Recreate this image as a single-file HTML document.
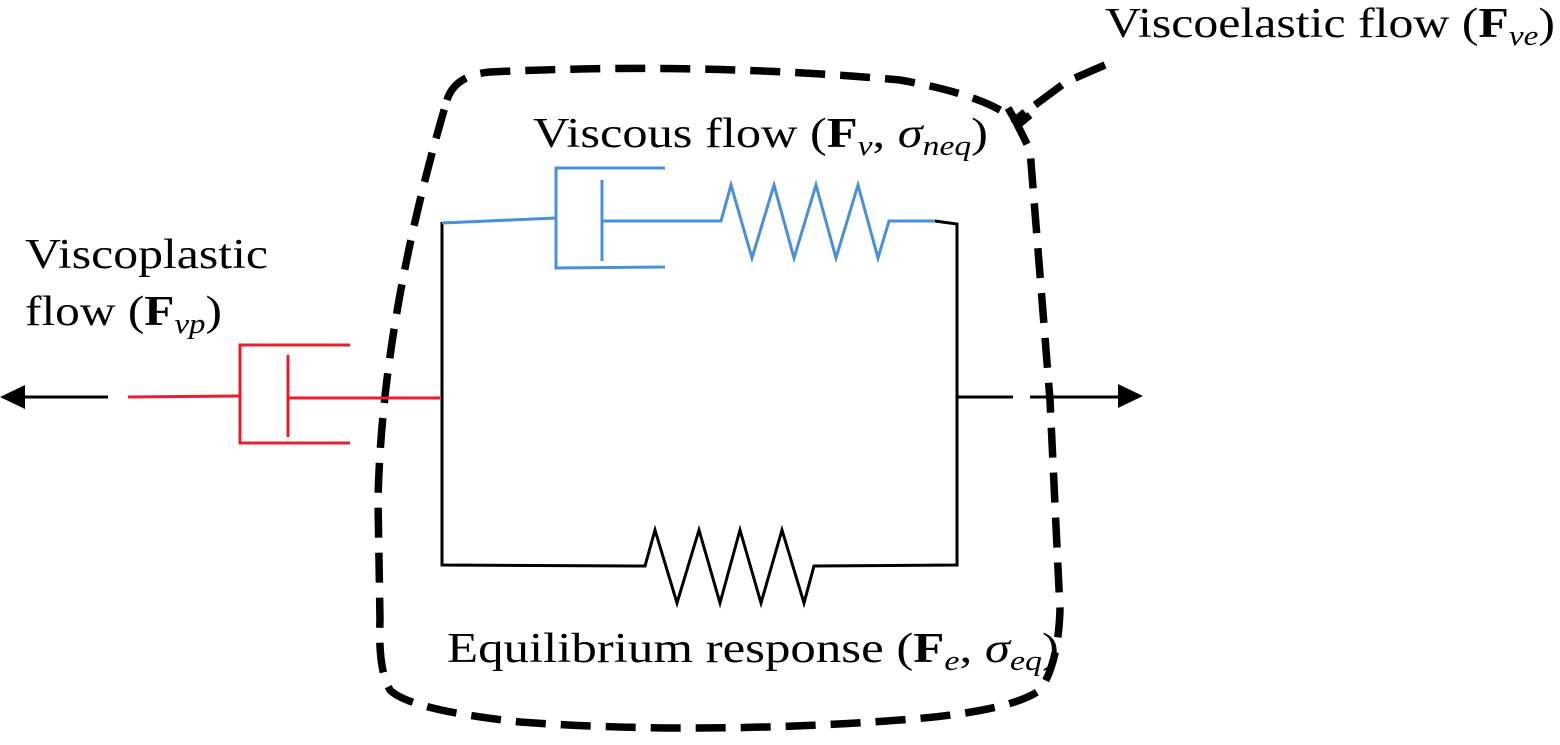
<!DOCTYPE html>
<html><head><meta charset="utf-8"><style>
html,body{margin:0;padding:0;background:#fff;}
svg{display:block;}
text{font-family:"Liberation Serif",serif;font-size:42px;fill:#000;}
.s{font-size:28px;font-style:italic;}
.b{font-weight:bold;}
</style></head><body>
<svg width="1560" height="745" viewBox="0 0 1560 745" xmlns="http://www.w3.org/2000/svg">
<!-- dashed outline -->
<path d="M447,100 Q455,75 490,72 Q700,62 900,80 Q985,95 1015,120 L1030,150 L1050,400 L1060,610 Q1058,665 1040,690 Q1010,712 900,720 Q700,735 520,722 Q410,710 390,690 Q378,670 380,620 L378,500 Q382,320 447,100 Z" fill="none" stroke="#000" stroke-width="7.5" stroke-dasharray="30,15"/>
<path d="M1013,122 L1025,112 M1035,105 L1062,85 M1075,78 L1105,65" stroke="#000" stroke-width="7.5" fill="none"/>
<path d="M1008,108 L1018,125 L1030,115" stroke="#000" stroke-width="7.5" fill="none"/>
<!-- black circuit -->
<g stroke="#000" stroke-width="3" fill="none">
<path d="M442,222 L442,565 L645,566 L655,530 L677,603 L699,530 L720,603 L740,530 L761,603 L782,530 L804,603 L814,566 L957,565 L957,224 L935,221"/>
<path d="M957,397 L1013,397 M1030,397 L1122,397"/>
<path d="M20,397 L108,397"/>
</g>
<polygon points="1143,396 1118,384 1118,408" fill="#000"/>
<polygon points="0,397 25,385 25,409" fill="#000"/>
<!-- blue -->
<g stroke="#4a90d9" stroke-width="3" fill="none">
<path d="M442,223 L556,218"/>
<path d="M665,168 L556,168 L556,268 L665,267"/>
<path d="M602,180 L602,261 M602,221 L721,221 L731,185 L752,258 L774,185 L794,258 L816,185 L836,258 L858,185 L878,258 L889,221 L935,221"/>
</g>
<!-- red -->
<g stroke="#ee1c2e" stroke-width="3" fill="none">
<path d="M128,397 L240,396"/>
<path d="M350,345 L240,345 L240,443 L350,443"/>
<path d="M288,355 L288,437 M288,398 L440,398"/>
</g>
<!-- labels -->
<text x="533" y="147" textLength="455" lengthAdjust="spacingAndGlyphs">Viscous flow (<tspan class="b">F</tspan><tspan class="s" dy="8">v</tspan><tspan dy="-8">, </tspan><tspan font-style="italic">σ</tspan><tspan class="s" dy="8">neq</tspan><tspan dy="-8">)</tspan></text>
<text x="1105" y="37" textLength="450" lengthAdjust="spacingAndGlyphs">Viscoelastic flow (<tspan class="b">F</tspan><tspan class="s" dy="8">ve</tspan><tspan dy="-8">)</tspan></text>
<text x="25" y="268" textLength="243" lengthAdjust="spacingAndGlyphs">Viscoplastic</text>
<text x="25" y="325" textLength="197" lengthAdjust="spacingAndGlyphs">flow (<tspan class="b">F</tspan><tspan class="s" dy="8">vp</tspan><tspan dy="-8">)</tspan></text>
<text x="447" y="662" textLength="612" lengthAdjust="spacingAndGlyphs">Equilibrium response (<tspan class="b">F</tspan><tspan class="s" dy="8">e</tspan><tspan dy="-8">, </tspan><tspan font-style="italic">σ</tspan><tspan class="s" dy="8">eq</tspan><tspan dy="-8">)</tspan></text>
</svg>
</body></html>
